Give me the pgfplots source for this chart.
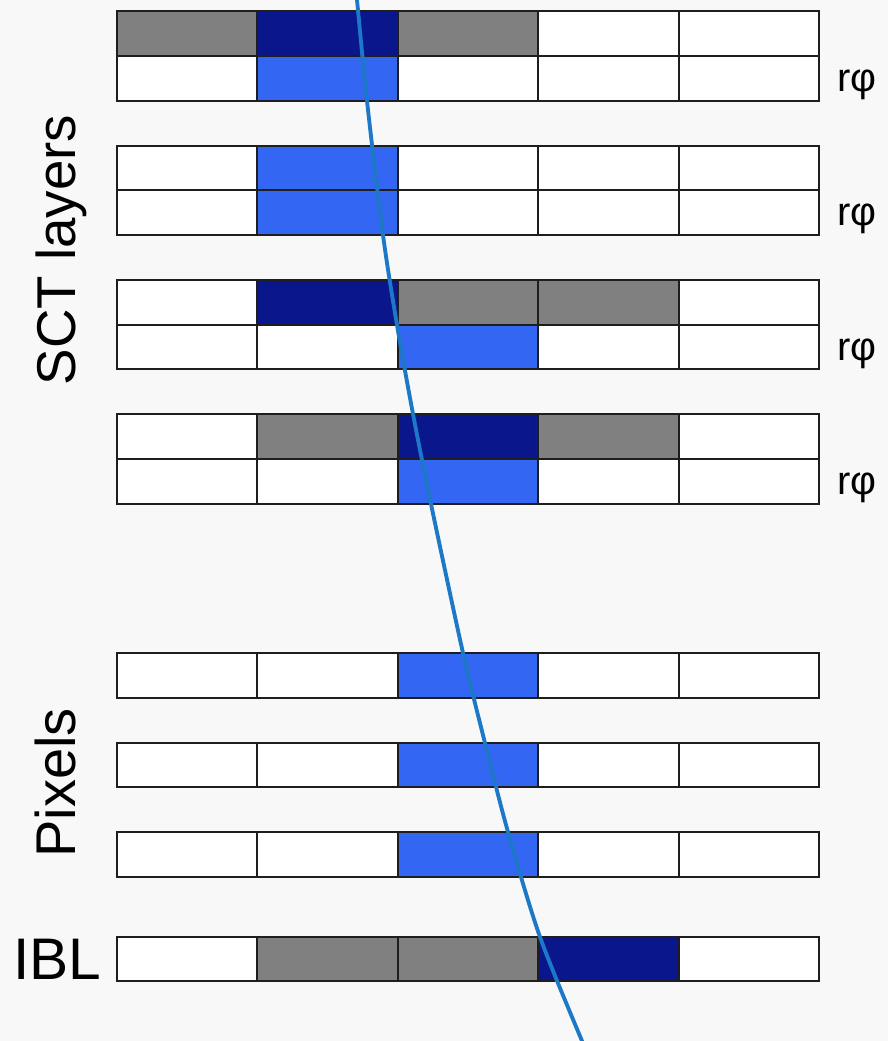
\documentclass[border=0pt]{standalone}
\usepackage{pgfplots}
\pgfplotsset{compat=1.18}
\usepackage{fontspec}
\setmainfont{Liberation Sans}
\definecolor{cgray}{RGB}{128,128,128}
\definecolor{cdark}{RGB}{10,22,140}
\definecolor{clight}{RGB}{51,102,242}
\definecolor{ctrack}{RGB}{30,120,200}
\definecolor{cbg}{RGB}{248,248,248}
\definecolor{cedge}{RGB}{30,30,30}
\newcommand{\cell}[5]{\addplot[draw=cedge, line width=1.7pt, fill=#1] coordinates {(#2,#4) (#3,#4) (#3,#5) (#2,#5)} -- cycle;}
\newcommand{\strip}[7]{%
  \cell{#3}{117}{257}{#1}{#2}
  \cell{#4}{257}{398}{#1}{#2}
  \cell{#5}{398}{538}{#1}{#2}
  \cell{#6}{538}{679}{#1}{#2}
  \cell{#7}{679}{819}{#1}{#2}}
\begin{document}
\begin{tikzpicture}
\begin{axis}[
  scale only axis, width=666pt, height=780.75pt,
  xmin=0, xmax=888, ymin=0, ymax=1041, y dir=reverse,
  axis lines=none, clip=true]
\addplot[fill=cbg, draw=none] coordinates {(0,0) (888,0) (888,1041) (0,1041)} -- cycle;
% SCT layers
\strip{11}{56}{cgray}{cdark}{cgray}{white}{white}
\strip{56}{101}{white}{clight}{white}{white}{white}
\strip{146}{190}{white}{clight}{white}{white}{white}
\strip{190}{235}{white}{clight}{white}{white}{white}
\strip{280}{325}{white}{cdark}{cgray}{cgray}{white}
\strip{325}{369}{white}{white}{clight}{white}{white}
\strip{414}{459}{white}{cgray}{cdark}{cgray}{white}
\strip{459}{504}{white}{white}{clight}{white}{white}
% Pixels
\strip{653}{698}{white}{white}{clight}{white}{white}
\strip{743}{787}{white}{white}{clight}{white}{white}
\strip{832}{877}{white}{white}{clight}{white}{white}
% IBL
\strip{937}{981}{white}{cgray}{cgray}{cdark}{white}
% track
\addplot[ctrack, line width=2.9pt, smooth] coordinates {
 (356,-10) (357,0) (367,101) (383,235) (397,325) (413,414) (431,504)
 (463,653) (485,743) (508,832) (540,937) (582,1041) (587,1052)};
% labels
\node[rotate=90, anchor=base, font=\fontsize{41}{48}\selectfont] at (axis cs:75,250) {SCT layers};
\node[rotate=90, anchor=base, font=\fontsize{42}{48}\selectfont] at (axis cs:75,783) {Pixels};
\node[anchor=base west, inner sep=0pt, font=\fontsize{44}{50}\selectfont] at (axis cs:13,979) {IBL};
\node[anchor=base west, inner sep=0pt, font=\fontsize{30}{36}\selectfont] at (axis cs:837,92) {rφ};
\node[anchor=base west, inner sep=0pt, font=\fontsize{30}{36}\selectfont] at (axis cs:837,226) {rφ};
\node[anchor=base west, inner sep=0pt, font=\fontsize{30}{36}\selectfont] at (axis cs:837,360) {rφ};
\node[anchor=base west, inner sep=0pt, font=\fontsize{30}{36}\selectfont] at (axis cs:837,494) {rφ};
\end{axis}
\end{tikzpicture}
\end{document}
